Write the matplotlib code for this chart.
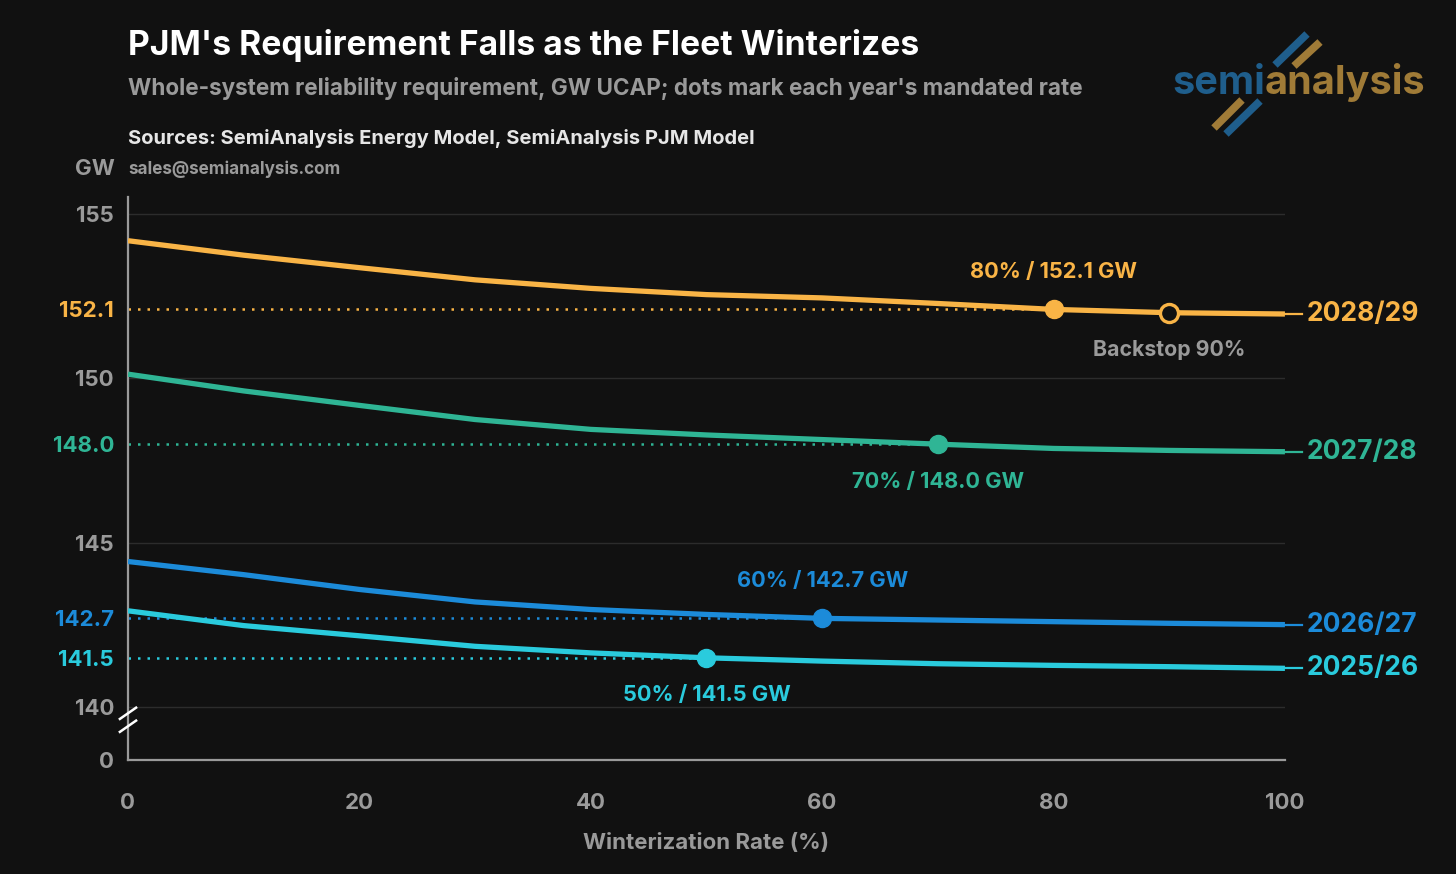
import numpy as np
import matplotlib.pyplot as plt
from matplotlib.lines import Line2D

# ---- data ----
RATE = [0, 10, 20, 30, 40, 50, 60, 70, 80, 90, 100]
REQ_2028 = [154.19, 153.75, 153.37, 153.00, 152.74, 152.55, 152.45, 152.28, 152.10, 152.00, 151.96]
REQ_2027 = [150.13, 149.62, 149.18, 148.75, 148.45, 148.28, 148.14, 148.00, 147.87, 147.81, 147.77]
REQ_2026 = [144.43, 144.03, 143.58, 143.20, 142.97, 142.82, 142.70, 142.65, 142.60, 142.55, 142.51]
REQ_2025 = [142.93, 142.48, 142.17, 141.85, 141.65, 141.50, 141.40, 141.32, 141.27, 141.23, 141.18]
YEARS = ["2028/29", "2027/28", "2026/27", "2025/26"]
MANDATED_RATE = [80, 70, 60, 50]
MANDATED_GW = [152.1, 148.0, 142.7, 141.5]
BACKSTOP_RATE = 90

COLORS = ["#F9B446", "#2FB595", "#1C8BD9", "#2ACBDD"]
BG = "#111111"
GRAY = "#9A9A9A"

plt.rcParams["font.family"] = ["Inter", "DejaVu Sans"]
plt.rcParams["font.weight"] = "bold"

# broken axis: 0 sits a short gap below 140
GAP = 1.61
def fwd(v):
    v = np.asarray(v, dtype=float)
    return np.where(v >= 140, v, (140 - GAP) + v * GAP / 140)

def inv(u):
    u = np.asarray(u, dtype=float)
    return np.where(u >= 140, u, (u - (140 - GAP)) * 140 / GAP)

fig = plt.figure(figsize=(14.56, 8.74), dpi=100, facecolor=BG)
ax = fig.add_axes([0.0879, 0.1304, 0.7946, 0.6442], facecolor=BG)
ax.set_yscale("function", functions=(fwd, inv))
ax.set_xlim(0, 100)
ax.set_ylim(0, 155.52)

for g in [140, 145, 150, 155]:
    ax.axhline(g, color="#2C2C2C", lw=1.0, zorder=1)

series = [REQ_2028, REQ_2027, REQ_2026, REQ_2025]
for vals, yr, rate, gw, c in zip(series, YEARS, MANDATED_RATE, MANDATED_GW, COLORS):
    ax.plot(RATE, vals, color=c, lw=3.8, zorder=3, solid_capstyle="butt")
    ax.plot([0, rate], [gw, gw], color=c, lw=1.8, ls=(0, (1.0, 2.8)), zorder=2)
    ax.plot([rate], [gw], "o", ms=13, color=c, zorder=5)
    ax.plot([100, 101.5], [vals[-1], vals[-1]], color=c, lw=1.6, clip_on=False)
    ax.text(101.9, vals[-1], yr, color=c, fontsize=19, fontweight="bold",
            va="center", ha="left")

# backstop point on 2028/29
bk = REQ_2028[RATE.index(BACKSTOP_RATE)]
ax.plot([BACKSTOP_RATE], [bk], "o", ms=13, mfc=BG, mec=COLORS[0], mew=2.4, zorder=5)
ax.annotate("Backstop 90%", (BACKSTOP_RATE, bk), xytext=(0, -27), textcoords="offset points",
            ha="center", va="center", color=GRAY, fontsize=15.3, fontweight="bold")

offsets = [27, -27, 27, -27]
for rate, gw, c, dy in zip(MANDATED_RATE, MANDATED_GW, COLORS, offsets):
    ax.annotate(f"{rate}% / {gw:.1f} GW", (rate, gw), xytext=(0, dy),
                textcoords="offset points", ha="center", va="center",
                color=c, fontsize=15.7, fontweight="bold")

# ticks
yt = [0, 140, 145, 150, 155] + MANDATED_GW
ax.set_yticks(yt)
ax.set_yticklabels([str(t) for t in [0, 140, 145, 150, 155]] + [f"{g:.1f}" for g in MANDATED_GW])
for lab, t in zip(ax.get_yticklabels(), yt):
    if t in MANDATED_GW:
        lab.set_color(COLORS[MANDATED_GW.index(t)])
    else:
        lab.set_color(GRAY)
ax.set_xticks([0, 20, 40, 60, 80, 100])
ax.tick_params(axis="both", length=0, labelsize=16)
ax.tick_params(axis="y", pad=10)
ax.tick_params(axis="x", pad=24, colors=GRAY)
for lab in ax.get_xticklabels() + ax.get_yticklabels():
    lab.set_fontweight("bold")
ax.set_xlabel("Winterization Rate (%)", color=GRAY, fontsize=16, fontweight="bold", labelpad=14)

for s in ["top", "right"]:
    ax.spines[s].set_visible(False)
for s in ["left", "bottom"]:
    ax.spines[s].set_color(GRAY)
    ax.spines[s].set_linewidth(1.6)

# break marks
for yb in [0.050, 0.073]:
    ax.add_line(Line2D([-0.007, 0.007], [yb, yb + 0.02], transform=ax.transAxes,
                       color="white", lw=1.8, clip_on=False, zorder=6))

# header text
fig.text(128 / 1456, 1 - 45 / 874, "PJM's Requirement Falls as the Fleet Winterizes",
         color="white", fontsize=24.2, fontweight="bold", va="center")
fig.text(128 / 1456, 1 - 89 / 874,
         "Whole-system reliability requirement, GW UCAP; dots mark each year's mandated rate",
         color=GRAY, fontsize=16.2, fontweight="bold", va="center")
fig.text(128 / 1456, 1 - 138 / 874, "Sources: SemiAnalysis Energy Model, SemiAnalysis PJM Model",
         color="#E6E6E6", fontsize=14.5, fontweight="bold", va="center")
fig.text(128 / 1456, 1 - 169 / 874, "sales@semianalysis.com",
         color=GRAY, fontsize=12.3, fontweight="bold", va="center")
fig.text(115 / 1456, 1 - 169 / 874, "GW", color=GRAY, fontsize=16, fontweight="bold",
         va="center", ha="right")

# logo
LOGO_BLUE = "#1F5E8C"
LOGO_GOLD = "#A07B37"
def px(x, y):
    return x / 1456, 1 - y / 874
t1 = fig.text(*px(1172, 83), "semi", color=LOGO_BLUE, fontsize=28.5, fontweight="bold", va="center")
fig.canvas.draw()
bb = t1.get_window_extent()
fig.text(bb.x1 / 1456, 1 - 83 / 874, "analysis", color=LOGO_GOLD, fontsize=28.5,
         fontweight="bold", va="center")
for (xa, ya, xb, yb), c in [((1275, 65, 1307, 34), LOGO_BLUE), ((1294, 66, 1320, 42), LOGO_GOLD),
                            ((1214, 128, 1242, 100), LOGO_GOLD), ((1226, 134, 1260, 101), LOGO_BLUE)]:
    fig.add_artist(Line2D([xa / 1456, xb / 1456], [1 - ya / 874, 1 - yb / 874],
                          color=c, lw=5.5, solid_capstyle="butt"))

fig.savefig("out.png", dpi=100, facecolor=BG)
